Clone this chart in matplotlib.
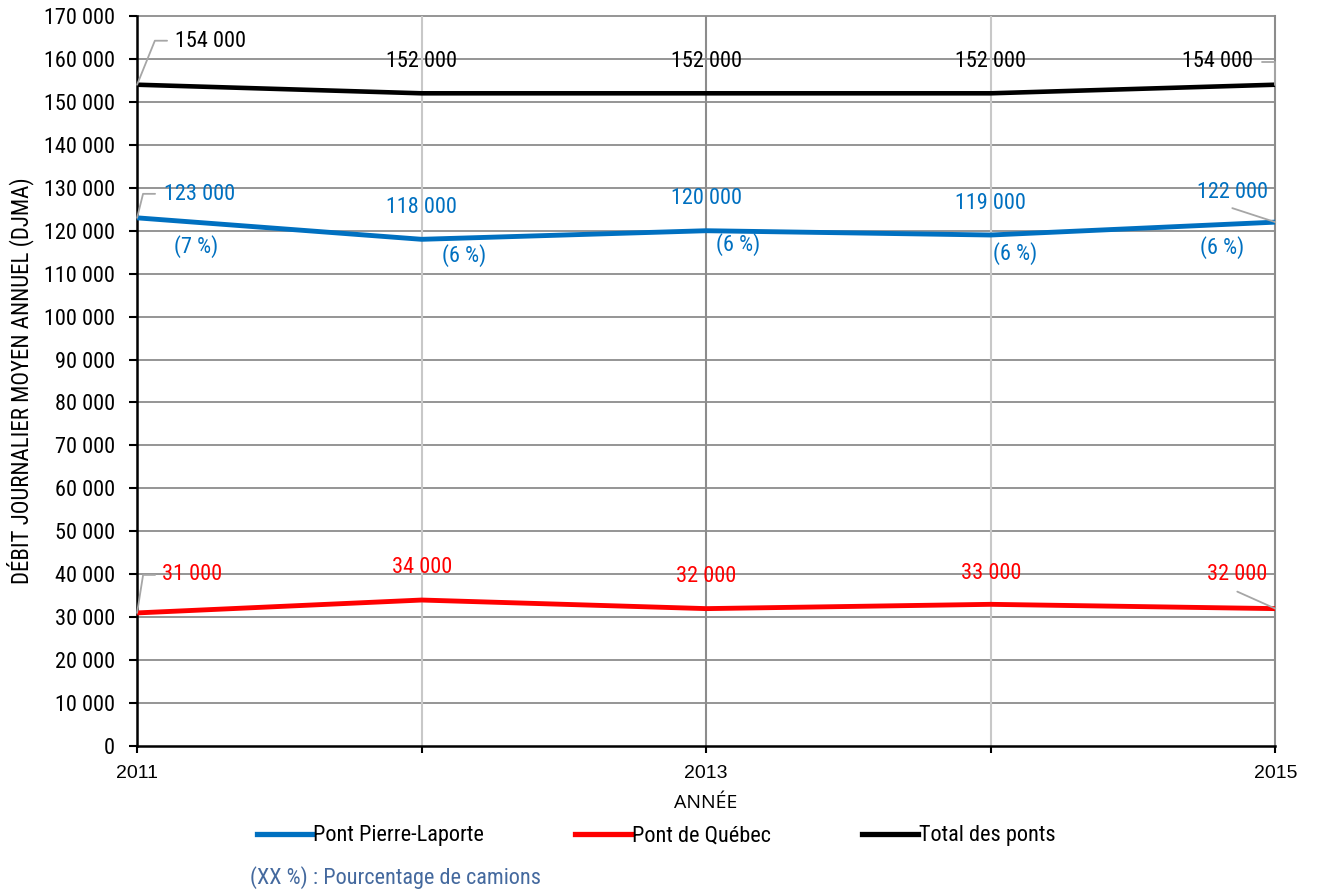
import matplotlib
matplotlib.use("Agg")
import matplotlib.pyplot as plt

NARROW = ['Liberation Sans Narrow', 'Roboto Condensed', 'Archivo Narrow',
          'PT Sans Narrow', 'Liberation Sans', 'DejaVu Sans']
plt.rcParams['font.family'] = NARROW

annees = [2011, 2012, 2013, 2014, 2015]
pierre_laporte = [123000, 118000, 120000, 119000, 122000]
pct_camions = [7, 6, 6, 6, 6]
pont_quebec = [31000, 34000, 32000, 33000, 32000]
total_ponts = [154000, 152000, 152000, 152000, 154000]

BLEU = '#0070C0'
ROUGE = '#FF0000'
GRIS = '#8c8c8c'
GRIS_CLAIR = '#c8c8c8'
LEADER = '#a6a6a6'
TAILLE = 16


def fmt(v):
    return f"{v:,}".replace(",", " ")


fig = plt.figure(figsize=(13.18, 8.94), dpi=100)
ax = fig.add_axes([0.104, 0.1655, 0.8636, 0.8166])

# grille horizontale
yticks = list(range(0, 170001, 10000))
for y in yticks[1:]:
    ax.axhline(y, color=GRIS, lw=1.3, zorder=1, clip_on=False)
# grille verticale : années paires en gris clair
for a in annees[1:-1]:
    ax.axvline(a, color=GRIS_CLAIR if a % 2 == 0 else GRIS, lw=1.5, zorder=1)

ax.plot(annees, total_ponts, color='black', lw=3.3, zorder=3, solid_capstyle='butt')
ax.plot(annees, pierre_laporte, color=BLEU, lw=3.5, zorder=3, solid_capstyle='butt')
ax.plot(annees, pont_quebec, color=ROUGE, lw=3.5, zorder=3, solid_capstyle='butt')

ax.set_xlim(2011, 2015)
ax.set_ylim(0, 170000)
ax.set_yticks(yticks)
ax.set_yticklabels([fmt(v) for v in yticks])
ax.set_xticks(annees)
ax.set_xticklabels([str(a) if a % 2 == 1 else '' for a in annees],
                   family=['Liberation Sans', 'DejaVu Sans'])
ax.tick_params(axis='y', direction='out', length=6, width=1.5, pad=10, labelsize=TAILLE)
ax.tick_params(axis='x', direction='out', length=5, width=1.5, pad=9, labelsize=14)

ax.spines['top'].set_visible(False)
ax.spines['left'].set_linewidth(1.8)
ax.spines['bottom'].set_linewidth(1.8)
ax.spines['right'].set_color(GRIS)
ax.spines['right'].set_linewidth(1.5)

ax.set_xlabel('ANNÉE', fontsize=14, labelpad=8, color='black',
              family=['Open Sans', 'DejaVu Sans'])
ax.set_ylabel('DÉBIT JOURNALIER MOYEN ANNUEL (DJMA)', fontsize=16.5, labelpad=7)


def etiquette(x, v, texte, dx, dy, couleur, ha='center'):
    ax.annotate(texte, xy=(x, v), xytext=(dx, dy), textcoords='offset pixels',
                ha=ha, va='center', fontsize=TAILLE, color=couleur, zorder=5)


def trait(x, v, dx, dy, angle=None):
    style = 'arc3' if angle is None else f'angle,angleA=0,angleB={angle},rad=0'
    ax.annotate('', xy=(x, v), xytext=(dx, dy), textcoords='offset pixels',
                arrowprops=dict(arrowstyle='-', color=LEADER, lw=1.3,
                                shrinkA=0, shrinkB=0, connectionstyle=style),
                zorder=4)


# étiquettes du total
pos_total = [(38, 43, 'left'), (0, 32, 'center'), (0, 32, 'center'),
             (0, 32, 'center'), (-22, 23, 'right')]
for a, v, (dx, dy, ha) in zip(annees, total_ponts, pos_total):
    etiquette(a, v, fmt(v), dx, dy, 'black', ha)
trait(annees[0], total_ponts[0], 30, 44, angle=68)
trait(annees[-1], total_ponts[-1], -13, 23, angle=90)

# étiquettes du pont Pierre-Laporte
pos_pl = [(62, 23), (0, 32), (0, 32), (0, 32), (-43, 30)]
pos_pct = [(59, -29), (42, -16), (32, -14), (24, -18), (-53, -25)]
for a, v, p, (dx, dy), (px, py) in zip(annees, pierre_laporte, pct_camions, pos_pl, pos_pct):
    etiquette(a, v, fmt(v), dx, dy, BLEU)
    etiquette(a, v, f'({p} %)', px, py, BLEU)
trait(annees[0], pierre_laporte[0], 18, 24, angle=76)
trait(annees[-1], pierre_laporte[-1], -43, 14)

# étiquettes du pont de Québec
pos_q = [(55, 38), (0, 33), (0, 32), (0, 31), (-38, 34)]
for a, v, (dx, dy) in zip(annees, pont_quebec, pos_q):
    etiquette(a, v, fmt(v), dx, dy, ROUGE)
trait(annees[0], pont_quebec[0], 18, 38, angle=81)
trait(annees[-1], pont_quebec[-1], -38, 17)

# légende
h1, = ax.plot([], [], color=BLEU, lw=3.8, label='Pont Pierre-Laporte')
h2, = ax.plot([], [], color=ROUGE, lw=3.8, label='Pont de Québec')
h3, = ax.plot([], [], color='black', lw=3.8, label='Total des ponts')
fig.legend(handles=[h1, h2, h3], loc='center', bbox_to_anchor=(656 / 1318, 1 - 836 / 894),
           ncol=3, frameon=False, fontsize=TAILLE, handlelength=2.5, handletextpad=0.05,
           columnspacing=4.1, borderpad=0)

fig.text(250 / 1318, 1 - 878 / 894, '(XX %) : Pourcentage de camions',
         fontsize=TAILLE, color='#44699e', va='center', ha='left')

fig.savefig('out.png', dpi=100)
